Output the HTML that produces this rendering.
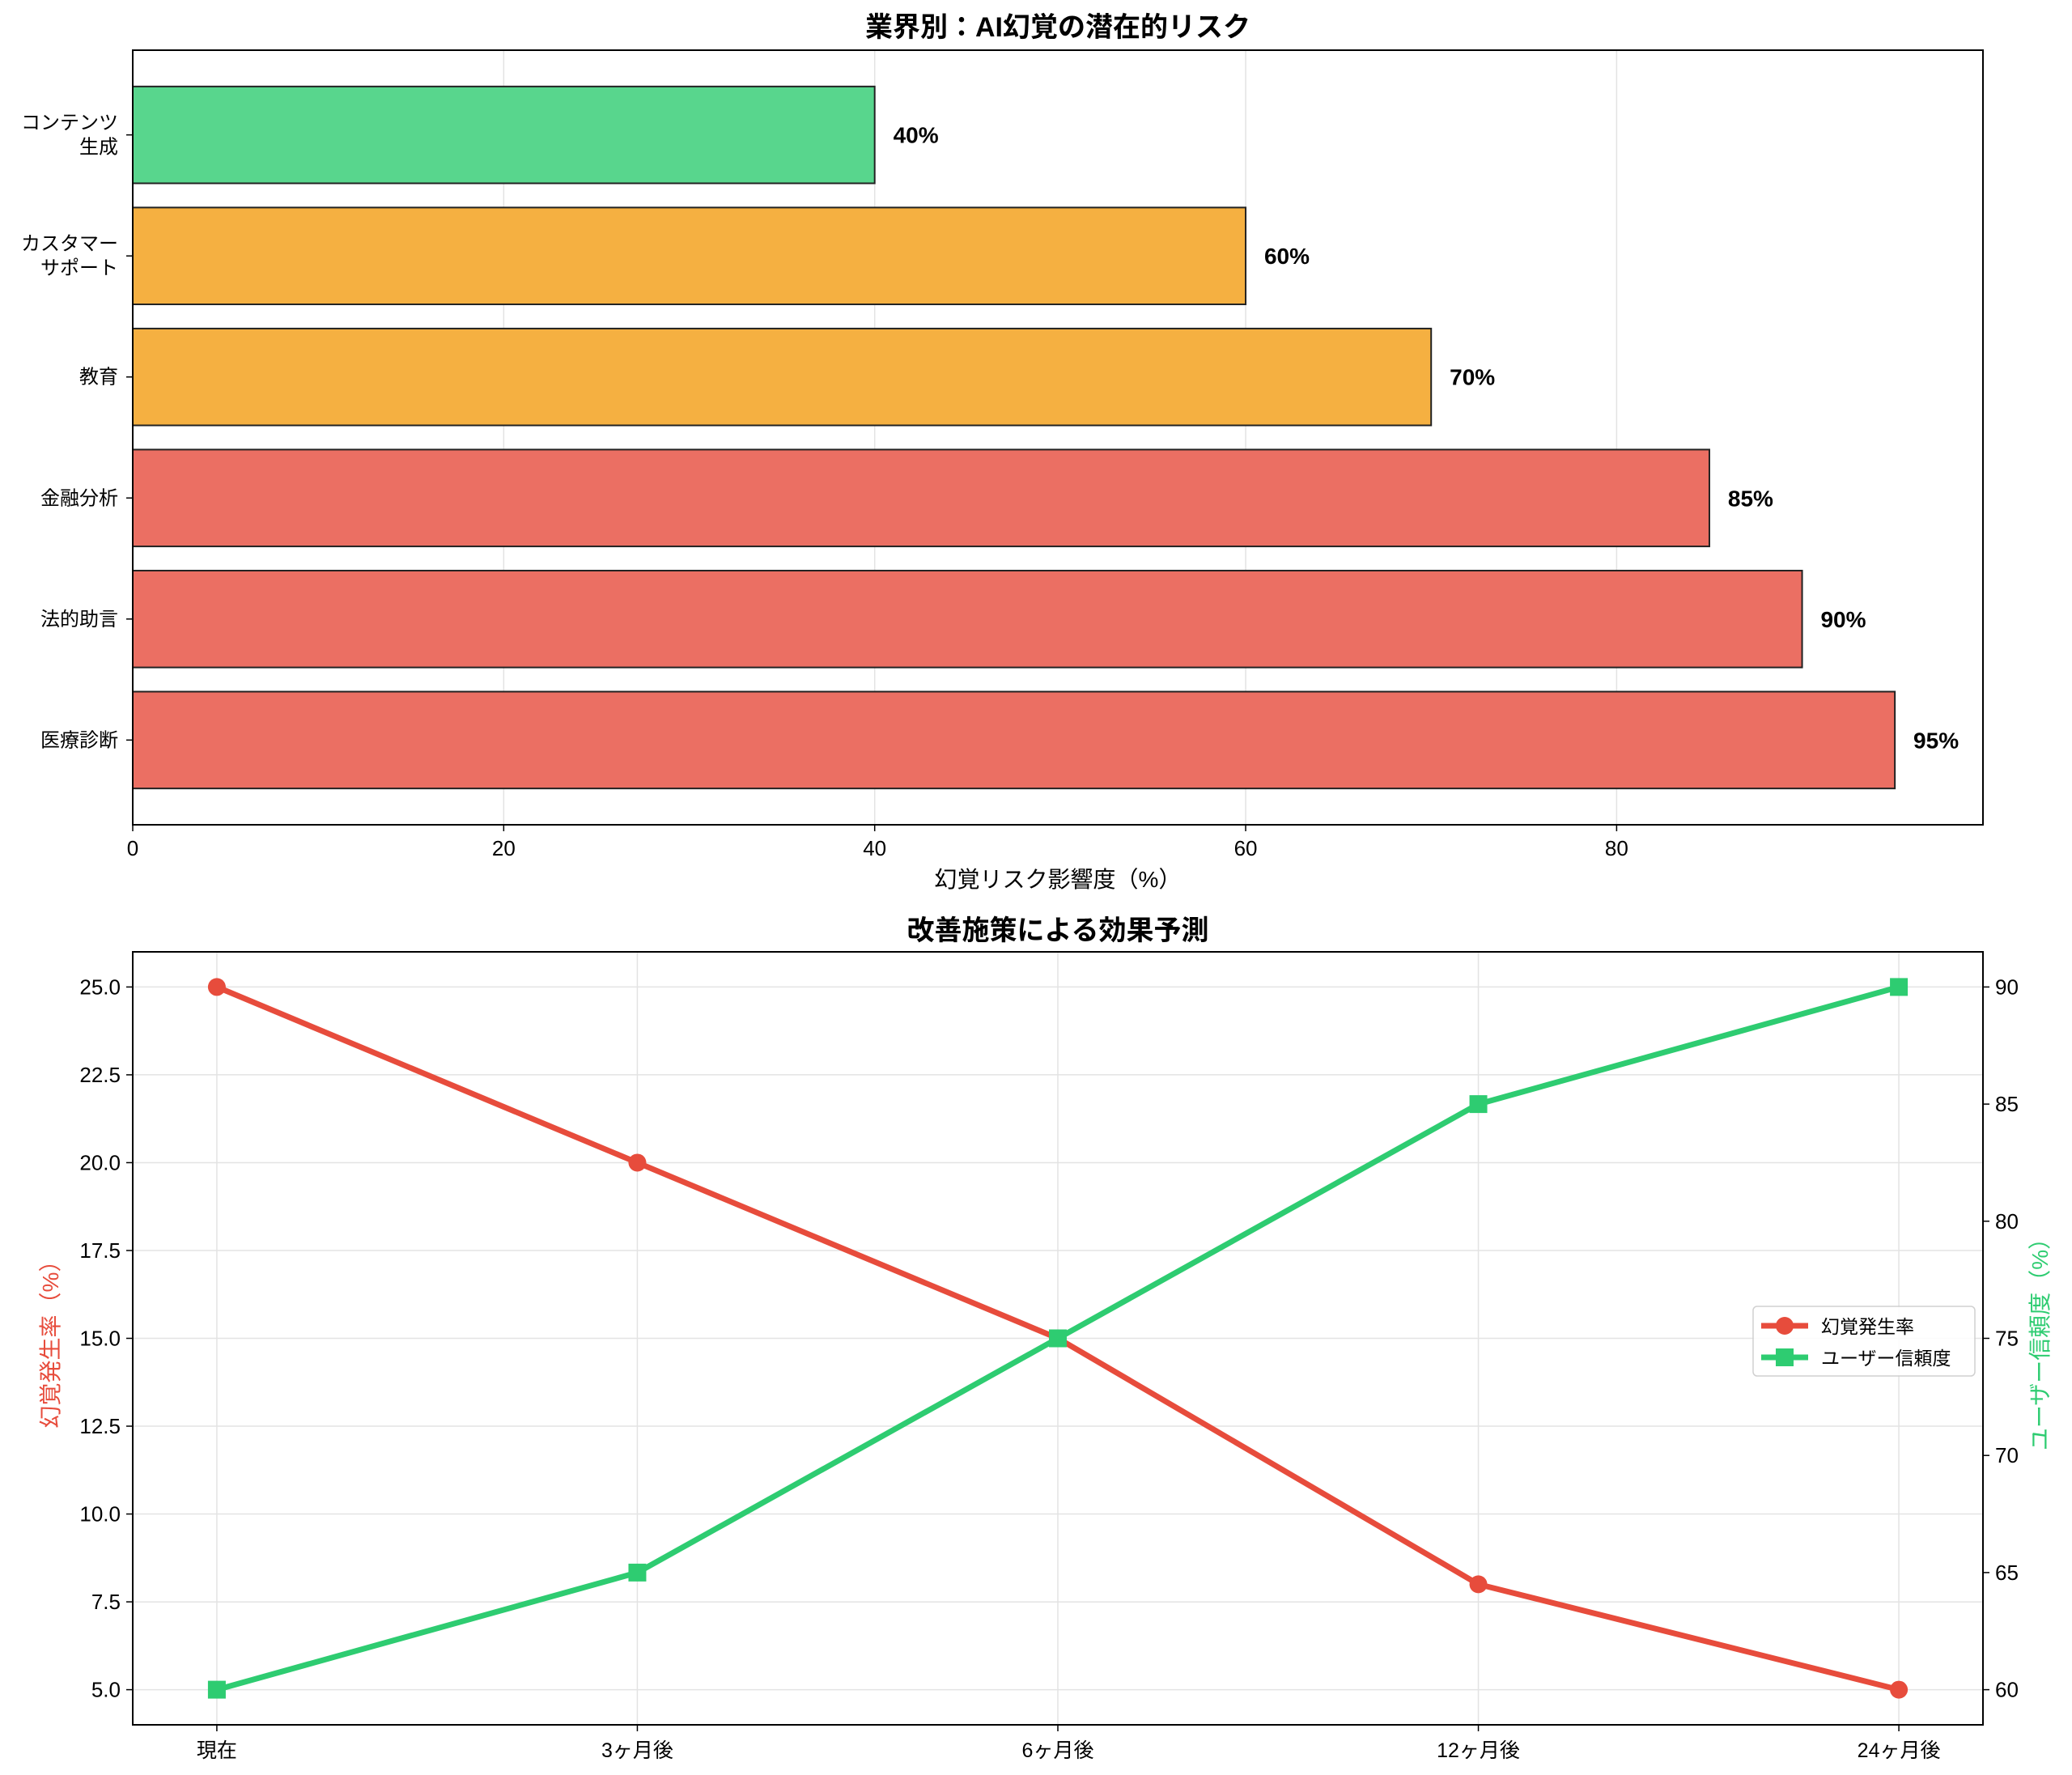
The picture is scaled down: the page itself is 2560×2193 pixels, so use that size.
<!DOCTYPE html>
<html><head><meta charset="utf-8"><style>
html,body{margin:0;padding:0;background:#fff;}
svg{display:block;font-family:"Liberation Sans","Noto Sans CJK JP",sans-serif;}
</style></head><body>
<svg id="chart" width="2560" height="2193" viewBox="0 0 2560 2193" xmlns="http://www.w3.org/2000/svg">
<rect width="2560" height="2193" fill="#fff"/>
<g id="top"></g>
<g id="bottom"></g>
</svg>
<script>
const industries = [["医療診断"],["法的助言"],["金融分析"],["教育"],["カスタマー","サポート"],["コンテンツ","生成"]];
const riskValues = [95, 90, 85, 70, 60, 40];
const riskColors = ["#EB6F63","#EB6F63","#EB6F63","#F5B041","#F5B041","#58D68D"];
const riskTicks = [0, 20, 40, 60, 80];
const periods = ["現在","3ヶ月後","6ヶ月後","12ヶ月後","24ヶ月後"];
const hallucinationRate = [25, 20, 15, 8, 5];
const userTrust = [60, 65, 75, 85, 90];
const leftTicks = [5.0, 7.5, 10.0, 12.5, 15.0, 17.5, 20.0, 22.5, 25.0];
const rightTicks = [60, 65, 70, 75, 80, 85, 90];

const NS = "http://www.w3.org/2000/svg";
function mk(parent, tag, attrs, text) {
  const e = document.createElementNS(NS, tag);
  for (const k in attrs) e.setAttribute(k, attrs[k]);
  if (text !== undefined) e.textContent = text;
  parent.appendChild(e);
  return e;
}

// ---- Top chart ----
const T = document.getElementById('top');
const tL = 164, tR = 2450, tT = 62, tB = 1019;
const txMax = 99.75, tyMin = -0.7, tyMax = 5.7;
const tx = v => tL + v / txMax * (tR - tL);
const ty = v => tB - (v - tyMin) / (tyMax - tyMin) * (tB - tT);

riskTicks.forEach(t => {
  const g = mk(T, 'line', {x1: tx(t), x2: tx(t), y1: tT, y2: tB, stroke: '#e3e3e3', 'stroke-width': 1.5});
  
  
  const tk = mk(T, 'line', {x1: tx(t), x2: tx(t), y1: tB, y2: tB + 8, stroke: '#000', 'stroke-width': 1.5});
  
  
  const lb = mk(T, 'text', {x: tx(t), y: tB + 38, 'text-anchor': 'middle', 'font-size': 26}, String(t));
  
  
});

riskValues.forEach((v, i) => {
  const bh = ty(0) - ty(0.8);
  const r = mk(T, 'rect', {x: tx(0), y: ty(i) - bh / 2, width: tx(v) - tx(0), height: bh, fill: riskColors[i], stroke: '#222', 'stroke-width': 2});
  
  
  const vl = mk(T, 'text', {x: tx(v + 1), y: ty(i) + 10, 'font-size': 28, 'font-weight': 'bold'}, v + '%');
  
  
  const tk = mk(T, 'line', {x1: tL - 8, x2: tL, y1: ty(i), y2: ty(i), stroke: '#000', 'stroke-width': 1.5});
  
  
  const lines = industries[i];
  const lb = mk(T, 'text', {x: tL - 18, y: ty(i) + 8 - (lines.length - 1) * 15, 'text-anchor': 'end', 'font-size': 24});
  
  
  lines.forEach((s, j) => mk(lb, 'tspan', {x: tL - 18, dy: j ? 30 : 0}, s));
});

const tf = mk(T, 'rect', {x: tL, y: tT, width: tR - tL, height: tB - tT, fill: 'none', stroke: '#000', 'stroke-width': 2});


const tt = mk(T, 'text', {x: (tL + tR) / 2, y: 45, 'text-anchor': 'middle', 'font-size': 34, 'font-weight': 'bold'}, '業界別：AI幻覚の潜在的リスク');


const txl = mk(T, 'text', {x: (tL + tR) / 2, y: 1096, 'text-anchor': 'middle', 'font-size': 28}, '幻覚リスク影響度（%）');



// ---- Bottom chart ----
const B = document.getElementById('bottom');
const bL = 164, bR = 2450, bT = 1176, bB = 2131;
const bx = i => bL + (i + 0.2) / 4.4 * (bR - bL);
const byL = v => bB - (v - 4) / 22 * (bB - bT);
const byR = v => bB - (v - 58.5) / 33 * (bB - bT);

periods.forEach((p, i) => {
  const g = mk(B, 'line', {x1: bx(i), x2: bx(i), y1: bT, y2: bB, stroke: '#e3e3e3', 'stroke-width': 1.5});
  
  
  const tk = mk(B, 'line', {x1: bx(i), x2: bx(i), y1: bB, y2: bB + 8, stroke: '#000', 'stroke-width': 1.5});
  
  
  const lb = mk(B, 'text', {x: bx(i), y: bB + 40, 'text-anchor': 'middle', 'font-size': 25}, p);
  
  
});
leftTicks.forEach(t => {
  const g = mk(B, 'line', {x1: bL, x2: bR, y1: byL(t), y2: byL(t), stroke: '#e3e3e3', 'stroke-width': 1.5});
  
  
  const tk = mk(B, 'line', {x1: bL - 8, x2: bL, y1: byL(t), y2: byL(t), stroke: '#000', 'stroke-width': 1.5});
  
  
  const lb = mk(B, 'text', {x: bL - 15, y: byL(t) + 9, 'text-anchor': 'end', 'font-size': 26}, t.toFixed(1));
  
  
});
rightTicks.forEach(t => {
  const tk = mk(B, 'line', {x1: bR, x2: bR + 8, y1: byR(t), y2: byR(t), stroke: '#000', 'stroke-width': 1.5});
  
  
  const lb = mk(B, 'text', {x: bR + 15, y: byR(t) + 9, 'font-size': 26}, String(t));
  
  
});

const redLine = mk(B, 'polyline', {points: hallucinationRate.map((v, i) => bx(i) + ',' + byL(v)).join(' '), fill: 'none', stroke: '#E74C3C', 'stroke-width': 7, 'stroke-linejoin': 'round'});


const greenLine = mk(B, 'polyline', {points: userTrust.map((v, i) => bx(i) + ',' + byR(v)).join(' '), fill: 'none', stroke: '#2ECC71', 'stroke-width': 7, 'stroke-linejoin': 'round'});


hallucinationRate.forEach((v, i) => {
  const c = mk(B, 'circle', {cx: bx(i), cy: byL(v), r: 11, fill: '#E74C3C'});
  
  
});
userTrust.forEach((v, i) => {
  const s = mk(B, 'rect', {x: bx(i) - 11, y: byR(v) - 11, width: 22, height: 22, fill: '#2ECC71'});
  
  
});

const bf = mk(B, 'rect', {x: bL, y: bT, width: bR - bL, height: bB - bT, fill: 'none', stroke: '#000', 'stroke-width': 2});


const bt = mk(B, 'text', {x: (bL + bR) / 2, y: 1161, 'text-anchor': 'middle', 'font-size': 34, 'font-weight': 'bold'}, '改善施策による効果予測');


const ly = mk(B, 'text', {x: 0, y: 0, transform: 'translate(72,1654) rotate(-90)', 'text-anchor': 'middle', 'font-size': 28, fill: '#E74C3C'}, '幻覚発生率（%）');


const ry = mk(B, 'text', {x: 0, y: 0, transform: 'translate(2530,1654) rotate(-90)', 'text-anchor': 'middle', 'font-size': 28, fill: '#2ECC71'}, 'ユーザー信頼度（%）');



// legend
const lg = mk(B, 'g', {});


mk(lg, 'rect', {x: 2166, y: 1614, width: 274, height: 86, rx: 5, fill: '#fff', stroke: '#ccc', 'stroke-width': 1.5, opacity: 0.9});
mk(lg, 'line', {x1: 2176, x2: 2234, y1: 1638, y2: 1638, stroke: '#E74C3C', 'stroke-width': 7});
mk(lg, 'circle', {cx: 2205, cy: 1638, r: 11, fill: '#E74C3C'});
const le1 = mk(lg, 'text', {x: 2250, y: 1647, 'font-size': 23}, '幻覚発生率');


mk(lg, 'line', {x1: 2176, x2: 2234, y1: 1677, y2: 1677, stroke: '#2ECC71', 'stroke-width': 7});
mk(lg, 'rect', {x: 2194, y: 1666, width: 22, height: 22, fill: '#2ECC71'});
const le2 = mk(lg, 'text', {x: 2250, y: 1686, 'font-size': 23}, 'ユーザー信頼度');


</script>
</body></html>
